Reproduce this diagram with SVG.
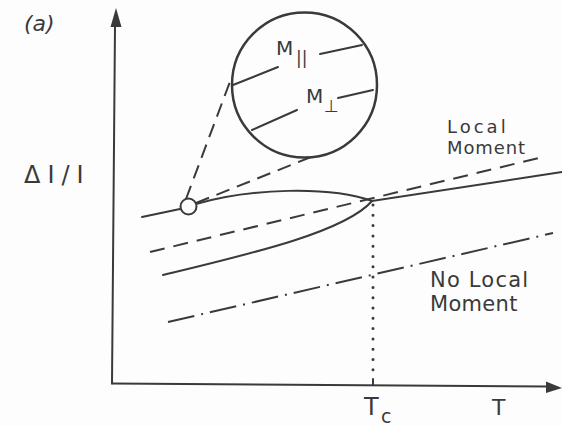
<svg xmlns="http://www.w3.org/2000/svg" width="562" height="426" viewBox="0 0 562 426">
<style>
.ln{fill:none;stroke:#3a3a3a;stroke-width:2;stroke-linecap:round}
.dash{stroke-dasharray:15 9;stroke-linecap:butt}
.mag{stroke-dasharray:14 8;stroke-linecap:butt}
.dd{stroke-dasharray:27 7 2 7;stroke-linecap:butt}
.dot{stroke-dasharray:0 10.3;stroke-width:3}
.t{font-family:"DejaVu Sans","Liberation Sans",sans-serif;fill:#3a3a3a}
</style>
<rect width="562" height="426" fill="#fdfdfd"/>
<g id="axes">
<path class="ln" d="M112,383.5 L115,26"/>
<polygon points="116,8 110.5,27 121.5,27" fill="#3a3a3a"/>
<path class="ln" d="M112,383.5 L548,386.5"/>
<polygon points="562,388 546,381.5 546,393" fill="#3a3a3a"/>
<path class="ln" d="M373,379 L373,385"/>
</g>
<g id="connectors">
<path class="ln dot" d="M373,205 L373,377"/>
<path class="ln dash" d="M150,252 L543,157"/>
<path class="ln dd" d="M168,322 L553,233"/>
<path class="ln" d="M142,217 L180,209"/>
<path class="ln" d="M196,204 C250,188 330,186 372,201 L562,172"/>
<path class="ln" d="M163,275 C250,254 345,232 372,201"/>
<path class="ln mag" d="M186,199 L231,79"/>
<path class="ln mag" d="M196,203 L311,157"/>
</g>
<g id="magnifier">
<circle cx="304.5" cy="85" r="72.5" fill="#fdfdfd" stroke="#3a3a3a" stroke-width="2.5"/>
<path class="ln" d="M233,85 L278,67"/>
<path class="ln" d="M320,54 L362,45"/>
<path class="ln" d="M252,130 L297,110"/>
<path class="ln" d="M338,98 L373,90"/>
<text class="t" x="276" y="55" font-size="20">M</text>
<text class="t" x="296" y="64" font-size="17">||</text>
<text class="t" x="306" y="103" font-size="20">M</text>
<text class="t" x="324" y="112" font-size="17">⊥</text>
</g>
<g id="point">
<circle cx="188.5" cy="206.5" r="8" fill="#fdfdfd" stroke="#3a3a3a" stroke-width="2"/>
</g>
<g id="labels">
<text class="t" x="24" y="31" font-size="22" font-style="italic">(a)</text>
<text class="t" x="24" y="183" font-size="24" letter-spacing="7">ΔI/I</text>
<text class="t" x="447" y="133" font-size="18" letter-spacing="3">Local</text>
<text class="t" x="447" y="153.5" font-size="18" letter-spacing="0.9">Moment</text>
<text class="t" x="430" y="287" font-size="21" letter-spacing="1.2">No Local</text>
<text class="t" x="430" y="311" font-size="21" letter-spacing="0.3">Moment</text>
<text class="t" x="364" y="415" font-size="24">T</text>
<text class="t" x="381" y="423" font-size="19">c</text>
<text class="t" x="492" y="415" font-size="22">T</text>
</g>
</svg>
